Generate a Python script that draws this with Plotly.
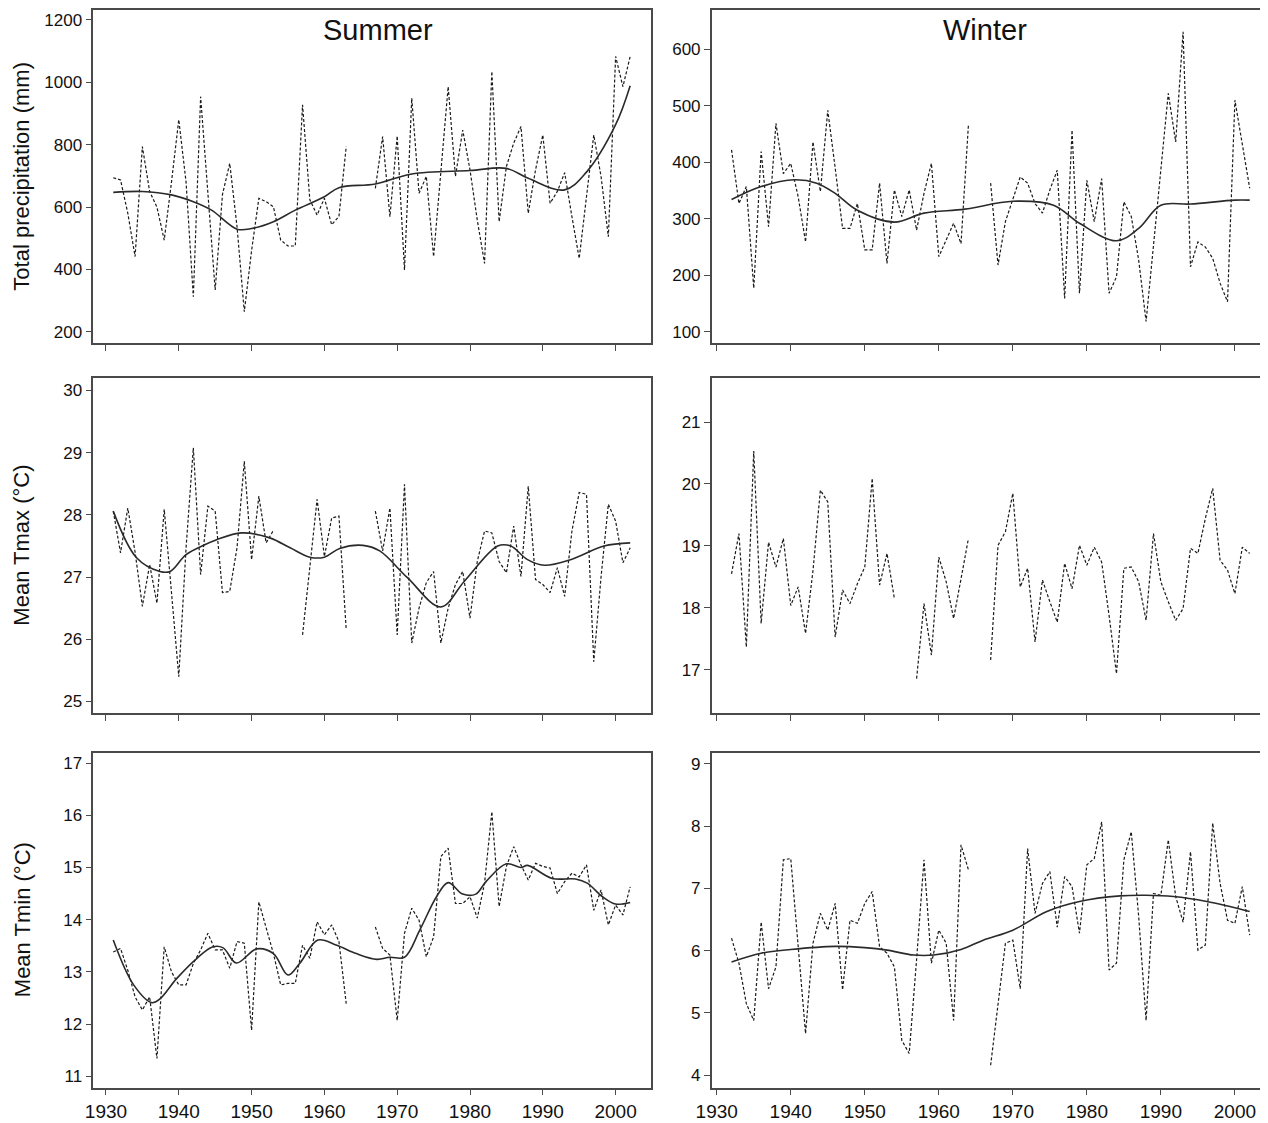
import plotly.graph_objects as go

# ---------------- data ----------------
years_summer = list(range(1931, 2003))
years_winter = list(range(1932, 2003))
N = None

summer_precip = [694, 687, 580, 441, 794, 650, 600, 494, 680, 880,
                 680, 312, 954, 633, 334, 640, 740, 537, 264, 460,
                 628, 617, 601, 494, 475, 475, 928, 623, 574, 628,
                 543, 570, 794, N, N, N, 660, 826, 569, 828,
                 398, 949, 644, 698, 441, 719, 986, 698, 847, 719,
                 558, 419, 1035, 553, 730, 805, 858, 580, 719, 831,
                 612, 650, 710, 569, 435, 633, 831, 698, 505, 1083,
                 986, 1083]
summer_precip_smooth_years = [1931, 1935, 1939, 1942, 1944.5, 1948, 1950, 1953, 1956, 1960,
                              1962, 1967, 1972, 1980, 1985, 1988, 1993, 1996, 2000, 2002]
summer_precip_smooth = [647, 650, 639, 617, 590, 529, 531, 553, 590, 633,
                        662, 674, 706, 717, 724, 692, 655, 712, 864, 989]

winter_precip = [422, 327, 357, 177, 419, 286, 469, 380, 398, 339,
                 259, 436, 348, 492, 390, 283, 283, 327, 245, 245,
                 363, 221, 351, 304, 351, 280, 345, 398, 233, 262,
                 292, 256, 466, N, N, 363, 218, 295, 333, 374,
                 363, 327, 310, 351, 386, 159, 457, 168, 368, 295,
                 371, 168, 197, 330, 304, 227, 118, 250, 390, 522,
                 436, 631, 215, 259, 250, 230, 186, 153, 510, 433,
                 354]
winter_precip_smooth_years = [1932, 1936, 1940.5, 1943.5, 1946, 1949, 1954, 1958, 1963.5, 1970,
                              1975.5, 1979, 1984, 1987, 1990, 1994, 2000, 2002]
winter_precip_smooth = [334, 357, 369, 363, 345, 315, 294, 310, 317, 331,
                        324, 292, 261, 283, 324, 326, 333, 333]

summer_tmax = [28.06, 27.39, 28.11, 27.40, 26.53, 27.20, 26.58, 28.09, 26.75, 25.40,
               27.47, 29.08, 27.04, 28.14, 28.06, 26.75, 26.77, 27.47, 28.86, 27.28,
               28.30, 27.55, 27.75, N, N, N, 26.07, 27.17, 28.25, 27.33,
               27.95, 27.98, 26.15, N, N, N, 28.06, 27.42, 28.11, 26.07,
               28.49, 25.94, 26.50, 26.91, 27.09, 25.94, 26.50, 26.88, 27.09, 26.34,
               27.25, 27.74, 27.71, 27.25, 27.07, 27.82, 27.01, 28.46, 26.96, 26.88,
               26.75, 27.15, 26.69, 27.74, 28.36, 28.33, 25.64, 27.00, 28.17, 27.90,
               27.23, 27.47]
summer_tmax_smooth_years = [1931, 1934.2, 1937.4, 1938.8, 1941, 1943.4, 1945.2, 1948.6, 1952.5, 1955.3,
                            1958, 1960, 1962.1, 1965.3, 1967.6, 1971.4, 1976, 1979.2, 1983.8, 1985.6,
                            1987.9, 1990.2, 1993.8, 1998.4, 2002]
summer_tmax_smooth = [28.06, 27.31, 27.09, 27.09, 27.36, 27.51, 27.60, 27.71, 27.63, 27.47,
                      27.32, 27.32, 27.46, 27.51, 27.42, 26.99, 26.52, 26.93, 27.50, 27.50,
                      27.28, 27.19, 27.28, 27.50, 27.55]

winter_tmax = [18.55, 19.20, 17.37, 20.53, 17.75, 19.06, 18.66, 19.12, 18.04, 18.34,
               17.59, 18.60, 19.90, 19.71, 17.53, 18.29, 18.07, 18.39, 18.66, 20.09,
               18.37, 18.88, 18.15, N, N, 16.86, 18.07, 17.24, 18.82, 18.42,
               17.83, 18.47, 19.12, N, N, 17.16, 19.01, 19.23, 19.85, 18.34,
               18.64, 17.45, 18.45, 18.10, 17.77, 18.72, 18.31, 19.01, 18.69, 18.98,
               18.74, 17.88, 16.94, 18.64, 18.66, 18.42, 17.80, 19.20, 18.42, 18.10,
               17.80, 17.99, 18.96, 18.88, 19.44, 19.93, 18.77, 18.61, 18.23, 18.98,
               18.88]

summer_tmin = [13.38, 13.45, 13.03, 12.52, 12.27, 12.52, 11.34, 13.48, 13.00, 12.75,
               12.75, 13.16, 13.42, 13.74, 13.42, 13.42, 13.07, 13.58, 13.55, 11.88,
               14.34, 13.86, 13.35, 12.75, 12.78, 12.78, 13.51, 13.26, 13.96, 13.71,
               13.90, 13.58, 12.39, N, N, N, 13.86, 13.45, 13.32, 12.07,
               13.74, 14.22, 13.99, 13.29, 13.67, 15.21, 15.37, 14.31, 14.31, 14.44,
               14.03, 14.70, 16.07, 14.25, 15.02, 15.40, 15.05, 14.76, 15.08, 15.02,
               14.99, 14.50, 14.73, 14.89, 14.82, 15.05, 14.18, 14.57, 13.90, 14.28,
               14.09, 14.63]
summer_tmin_smooth_years = [1931, 1933.8, 1936.3, 1937.4, 1939.7, 1942.5, 1944.7, 1946.1, 1947.9, 1950.7,
                            1953, 1955, 1956.6, 1959.1, 1961.7, 1964.4, 1967.2, 1969, 1971, 1973.1,
                            1975.4, 1977, 1979, 1980.8, 1982.2, 1985, 1987, 1987.9, 1991.3, 1994.5,
                            1996.1, 1998.2, 2000, 2002]
summer_tmin_smooth = [13.61, 12.75, 12.41, 12.48, 12.87, 13.26, 13.48, 13.46, 13.17, 13.44,
                      13.35, 12.94, 13.16, 13.61, 13.51, 13.35, 13.24, 13.28, 13.28, 13.80,
                      14.44, 14.71, 14.49, 14.49, 14.73, 15.07, 15.00, 15.04, 14.79, 14.78,
                      14.70, 14.44, 14.30, 14.33]

winter_tmin = [6.20, 5.80, 5.15, 4.88, 6.46, 5.39, 5.74, 7.46, 7.48, 6.06,
               4.67, 6.12, 6.60, 6.33, 6.76, 5.37, 6.49, 6.44, 6.76, 6.95,
               6.06, 5.96, 5.74, 4.56, 4.35, 5.86, 7.46, 5.80, 6.33, 6.12,
               4.88, 7.70, 7.30, N, N, 4.16, 5.18, 6.12, 6.17, 5.39,
               7.64, 6.60, 7.08, 7.27, 6.38, 7.19, 7.03, 6.28, 7.38, 7.48,
               8.07, 5.69, 5.80, 7.46, 7.91, 6.55, 4.88, 6.92, 6.89, 7.78,
               6.87, 6.46, 7.59, 6.01, 6.09, 8.05, 7.08, 6.49, 6.44, 7.03,
               6.25]
winter_tmin_smooth_years = [1932, 1936, 1940, 1946, 1950, 1953, 1956.6, 1959.3, 1963, 1966,
                            1970, 1974.6, 1979, 1984.5, 1988, 1991.7, 1996.2, 2002]
winter_tmin_smooth = [5.82, 5.96, 6.02, 6.07, 6.05, 6.01, 5.93, 5.93, 6.02, 6.17,
                      6.33, 6.63, 6.79, 6.88, 6.89, 6.87, 6.79, 6.63]

x_ticks = [1930, 1940, 1950, 1960, 1970, 1980, 1990, 2000]
y_titles = ["Total precipitation (mm)", "Mean Tmax (°C)", "Mean Tmin (°C)"]
col_titles = ["Summer", "Winter"]

# ---------------- layout geometry ----------------
# The page body has an 8px margin, so the figure is drawn 8px smaller and
# page coordinates are shifted by that offset.
OFF = 8
W, H = 1268 - OFF, 1123 - OFF


def px_x(p):
    return (p - OFF) / W


def px_y(p):
    return 1 - (p - OFF) / H


col_px = [(93.3, 651), (711.7, 1266)]
col_dom = [[px_x(a), px_x(b)] for a, b in col_px]
row_px = [(10, 343.3), (378, 713.3), (752.7, 1087.7)]
row_dom = [[px_y(b), px_y(t)] for t, b in row_px]
x_ranges = [[1928.26, 2004.86], [1929.32, 2004.2]]

panels = [
    # (row, col, x, y, smooth_x, smooth_y, y_range, y_ticks)
    (0, 0, years_summer, summer_precip, summer_precip_smooth_years, summer_precip_smooth,
     [162.8, 1232], [200, 400, 600, 800, 1000, 1200]),
    (0, 1, years_winter, winter_precip, winter_precip_smooth_years, winter_precip_smooth,
     [79.5, 669.6], [100, 200, 300, 400, 500, 600]),
    (1, 0, years_summer, summer_tmax, summer_tmax_smooth_years, summer_tmax_smooth,
     [24.81, 30.2], [25, 26, 27, 28, 29, 30]),
    (1, 1, years_winter, winter_tmax, None, None,
     [16.30, 21.71], [17, 18, 19, 20, 21]),
    (2, 0, years_summer, summer_tmin, summer_tmin_smooth_years, summer_tmin_smooth,
     [10.78, 17.2], [11, 12, 13, 14, 15, 16, 17]),
    (2, 1, years_winter, winter_tmin, winter_tmin_smooth_years, winter_tmin_smooth,
     [3.80, 9.18], [4, 5, 6, 7, 8, 9]),
]

FONT = "Liberation Sans, Arial, Helvetica, sans-serif"
AX_COLOR = "#4a4a4a"

fig = go.Figure()
layout = {}
for i, (r, c, xs, ys, sx, sy, yr, yt) in enumerate(panels, start=1):
    xa = "x" if i == 1 else f"x{i}"
    ya = "y" if i == 1 else f"y{i}"
    fig.add_trace(go.Scatter(x=xs, y=ys, mode="lines", xaxis=xa, yaxis=ya,
                             line=dict(color="#1a1a1a", width=1.2, dash="3px,2px"),
                             connectgaps=False, showlegend=False, hoverinfo="skip"))
    if sx is not None:
        fig.add_trace(go.Scatter(x=sx, y=sy, mode="lines", xaxis=xa, yaxis=ya,
                                 line=dict(color="#2a2a2a", width=1.6, shape="spline",
                                           smoothing=1.0),
                                 showlegend=False, hoverinfo="skip"))
    common = dict(showline=True, mirror=True, linecolor=AX_COLOR, linewidth=1.5,
                  ticks="outside", ticklen=6, tickwidth=1.2, tickcolor=AX_COLOR,
                  showgrid=False, zeroline=False, automargin=False)
    layout["xaxis" if i == 1 else f"xaxis{i}"] = dict(
        domain=col_dom[c], range=x_ranges[c], anchor=ya,
        tickvals=x_ticks, showticklabels=(r == 2),
        tickfont=dict(family=FONT, size=19, color="#111"), **common)
    layout["yaxis" if i == 1 else f"yaxis{i}"] = dict(
        domain=row_dom[r], range=yr, anchor=xa, tickvals=yt,
        tickfont=dict(family=FONT, size=17, color="#111"), **common)

annotations = []
for r, t in enumerate(y_titles):
    yc = px_y((row_px[r][0] + row_px[r][1]) / 2)
    annotations.append(dict(text=t, xref="paper", yref="paper", x=px_x(22), y=yc,
                            textangle=-90, showarrow=False, xanchor="center", yanchor="middle",
                            font=dict(family=FONT, size=22, color="#111")))
for c, t in enumerate(col_titles):
    xc = px_x([378, 985][c])
    annotations.append(dict(text=t, xref="paper", yref="paper", x=xc, y=px_y(30),
                            showarrow=False, xanchor="center", yanchor="middle",
                            font=dict(family=FONT, size=29, color="#111")))

fig.update_layout(template="none", width=W, height=H, margin=dict(l=0, r=0, t=0, b=0),
                  paper_bgcolor="white", plot_bgcolor="white",
                  annotations=annotations, **layout)

fig.write_html("out.html")
